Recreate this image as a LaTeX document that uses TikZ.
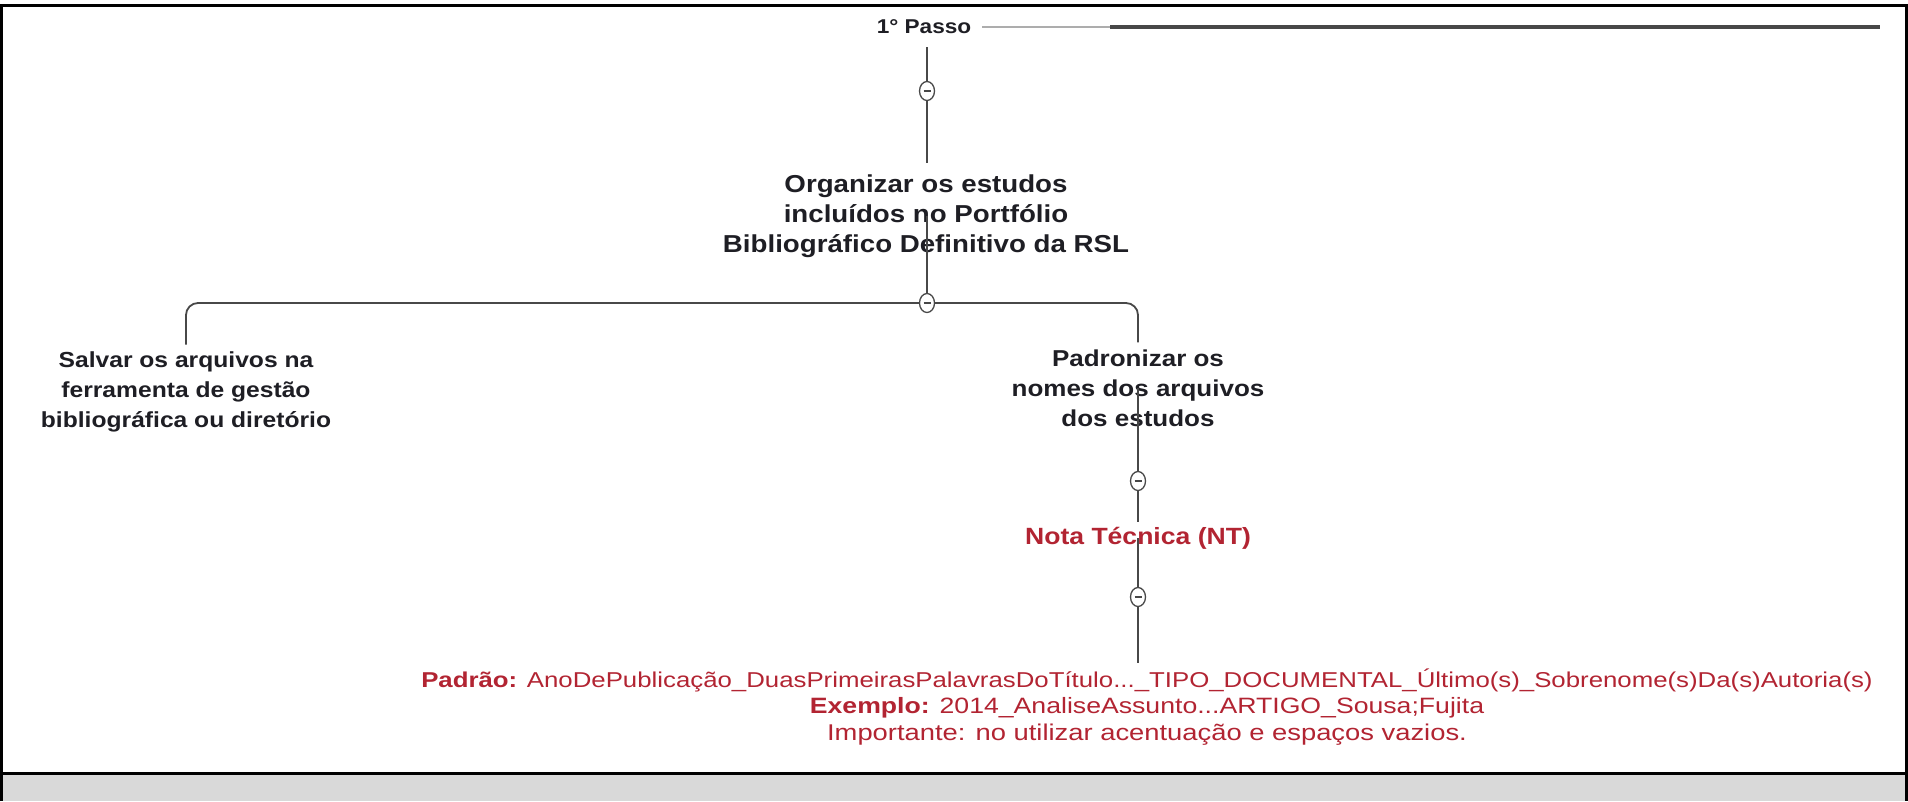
\documentclass[tikz,border=0pt]{standalone}
\usepackage{fontspec}
\setmainfont{Liberation Sans}
\newfontfamily\bfam{Liberation Sans}[FakeStretch=1.13]
\newfontfamily\rfam{Liberation Sans}[FakeStretch=1.2]
\usetikzlibrary{calc,shapes.geometric}
\definecolor{txtc}{RGB}{30,30,36}
\definecolor{lnc}{RGB}{72,72,72}
\definecolor{ntc}{RGB}{178,36,50}
\definecolor{bgg}{RGB}{217,217,217}
\tikzset{
  topic/.style={align=center, text=txtc, inner sep=3pt, font=\bfam\bfseries\fontsize{22.5}{30}\selectfont},
  redtopic/.style={align=center, text=ntc, inner sep=3pt, font=\bfam\bfseries\fontsize{23.5}{30}\selectfont},
  note/.style={align=center, text=ntc, inner sep=3pt, font=\rfam\fontsize{21.5}{26.5}\selectfont},
  tog/.style={ellipse, draw=lnc, line width=1.3pt, fill=white, minimum width=15pt, minimum height=19pt, inner sep=0pt,
    path picture={\draw[lnc, line width=1.3pt] ($(path picture bounding box.center)+(-3.5,0)$) -- ($(path picture bounding box.center)+(3.5,0)$);}},
  conn/.style={draw=lnc, line width=1.8pt},
}
\begin{document}
\begin{tikzpicture}[x=1pt,y=-1pt]
\useasboundingbox (0,0) rectangle (1908,801);
\fill[bgg] (0,773) rectangle (1908,801);
\draw[line width=3pt] (1.5,801) -- (1.5,5) -- (1906.5,5) -- (1906.5,801);
\draw[line width=3pt] (0,773) -- (1908,773);

% text nodes
\node[topic, font=\bfam\bfseries\fontsize{20}{24}\selectfont] (p1) at (924,27) {1° Passo};
\node[topic, font=\bfam\bfseries\fontsize{24.5}{30}\selectfont] (org) at (926,216) {Organizar os estudos\\incluídos no Portfólio\\Bibliográfico Definitivo da RSL};
\node[topic, font=\bfam\bfseries\fontsize{21.8}{30}\selectfont] (sal) at (186,392) {Salvar os arquivos na\\ferramenta de gestão\\bibliográfica ou diretório};
\node[topic, font=\bfam\bfseries\fontsize{23}{30}\selectfont] (pad) at (1138,388) {Padronizar os\\nomes dos arquivos\\dos estudos};
\node[redtopic] (nt) at (1138,538) {Nota Técnica (NT)};
\node[note] (pd) at (1147,707) {\textbf{Padrão:} AnoDePublicação\_DuasPrimeirasPalavrasDoTítulo...\_TIPO\_DOCUMENTAL\_Último(s)\_Sobrenome(s)Da(s)Autoria(s)\\
{\fontsize{22.2}{26.5}\selectfont\textbf{Exemplo:} 2014\_AnaliseAssunto...ARTIGO\_Sousa;Fujita}\\
{\fontsize{22.8}{26.5}\selectfont Importante: no utilizar acentuação e espaços vazios.}};

% toggles
\node[tog] (c1) at (927,91) {};
\node[tog] (c2) at (927,303) {};
\node[tog] (c3) at (1138,481) {};
\node[tog] (c4) at (1138,597) {};

% right line from 1° Passo
\coordinate (r1) at (1110,27);
\coordinate (r2) at (1880,27);
\draw[draw=lnc!45, line width=1.3pt] ([xshift=8pt]p1.east) -- (r1);
\draw[draw=lnc, line width=3.2pt] (r1) -- (r2);

% connectors
\draw[conn] ([yshift=-10pt]p1.south -| c1) -- (c1);
\draw[conn] (c1) -- ([yshift=8pt]org.north -| c1);
\draw[conn] (org.center -| c2) -- (c2);
\draw[conn, rounded corners=12pt] (c2) -| ([yshift=4pt]sal.north);
\draw[conn, rounded corners=12pt] (c2) -| ([yshift=4pt]pad.north);
\draw[conn] (pad.center) -- (c3);
\draw[conn] (c3) -- ([yshift=2pt]nt.north);
\draw[conn] (nt.center) -- (c4);
\draw[conn] (c4) -- ([yshift=3pt]pd.north -| c4);
\end{tikzpicture}
\end{document}
